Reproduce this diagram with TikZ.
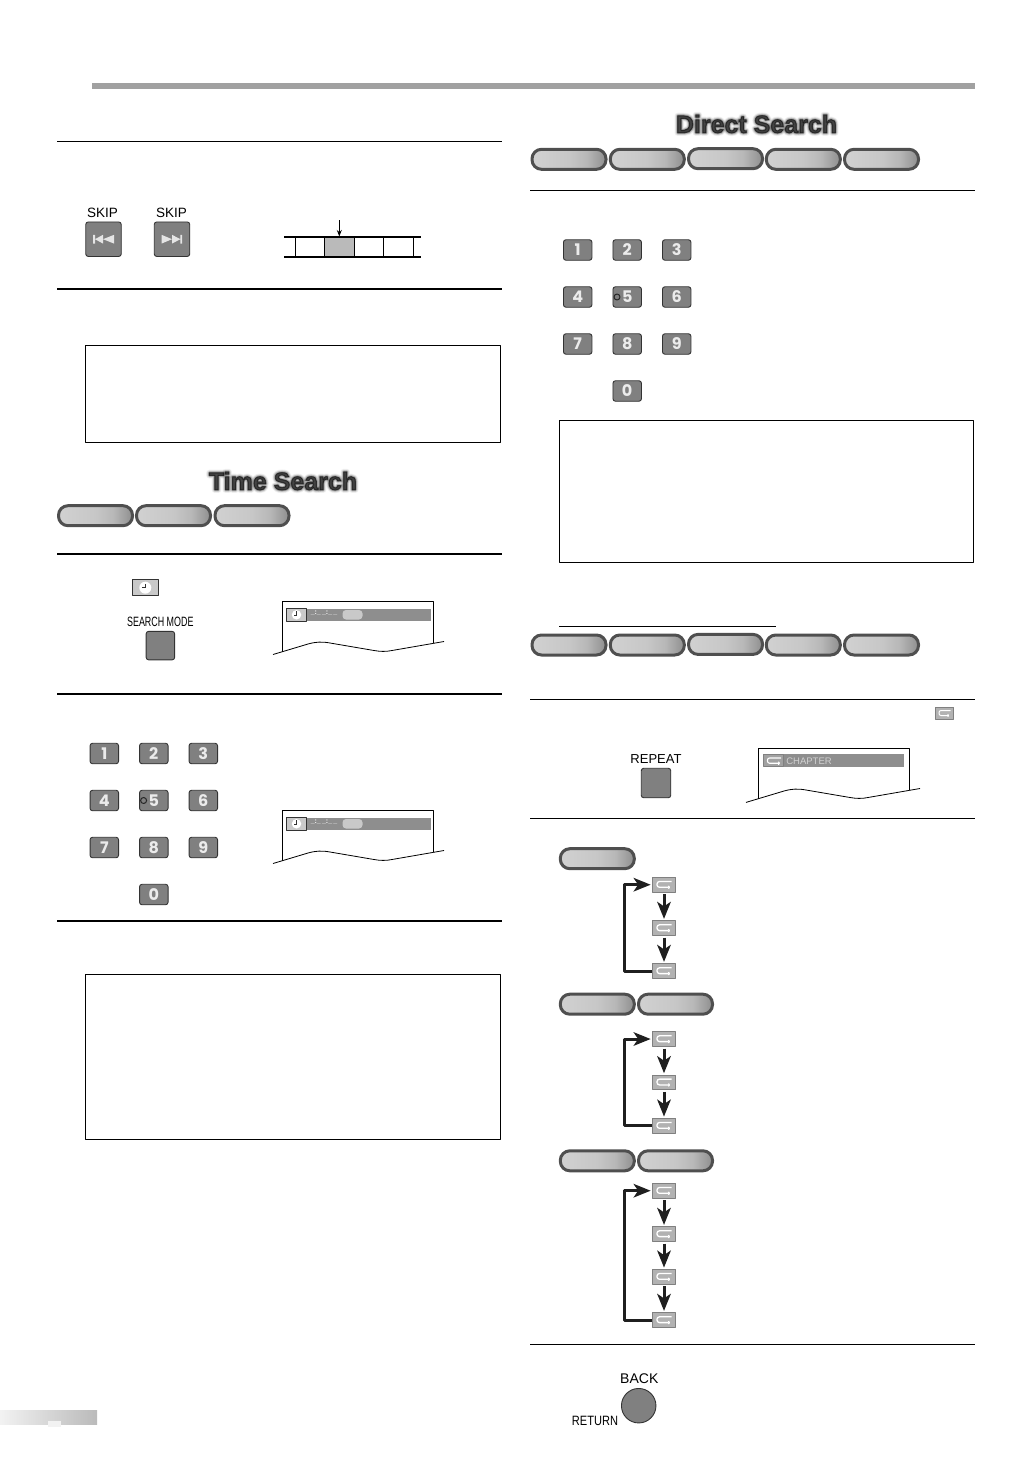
\documentclass[tikz,border=0pt]{standalone}
\usepackage{fontspec}
\usepackage{graphicx}
\setmainfont{Liberation Sans}
\newfontfamily\keyfont{Poppins}
\newfontfamily\blura{Liberation Sans Bold}[FakeBold=24]
\newfontfamily\blurb{Liberation Sans Bold}[FakeBold=18]
\newfontfamily\blurc{Liberation Sans Bold}[FakeBold=13]
\newfontfamily\blurd{Liberation Sans Bold}[FakeBold=8]
\newfontfamily\blure{Liberation Sans Bold}[FakeBold=3]
\usetikzlibrary{arrows.meta}
\definecolor{keygray}{HTML}{808080}
\definecolor{edgegray}{HTML}{333333}
\definecolor{pillrim}{HTML}{4F4F4F}
\definecolor{iconpale}{HTML}{C9C9C9}
\definecolor{bargray}{HTML}{8E8E8E}
\pgfdeclarehorizontalshading{pillshade}{100bp}{rgb(0bp)=(.82,.82,.82); rgb(25bp)=(.82,.82,.82); rgb(50bp)=(.78,.78,.78); rgb(62bp)=(.72,.72,.72); rgb(75bp)=(.56,.56,.56); rgb(100bp)=(.56,.56,.56)}
\newcommand{\fs}[1]{\fontsize{#1}{#1}\selectfont}
\newcommand{\keypad}[3]{%
	\foreach \d/\cx/\cy in {1/0/0,2/49.5/0,3/99/0,4/0/47,5/49.5/47,6/99/47,7/0/94,8/49.5/94,9/99/94,0/49.5/141}
		\node[numkey] (#1\d) at (#2+\cx,#3+\cy) {\d};
	\draw[black!85,line width=1pt] ([xshift=4.5pt]#15.west) circle (3pt);
}
\newcommand{\osdframe}[3]{%
	\draw[line width=.9pt] (282.5+#1,651.5+#2)--(282.5+#1,601.5+#2)--(433.5+#1,601.5+#2)--(433.5+#1,643+#2);
	\draw[line width=.8pt] (273+#1-#3,654.5+#2+.3*#3)--(308+#1,644+#2) .. controls (316+#1,641.8+#2) and (322+#1,641.5+#2) .. (330+#1,643+#2)--(374+#1,650.5+#2) .. controls (380+#1,651.6+#2) and (386+#1,651.8+#2) .. (392+#1,650.5+#2)--(444+#1,641.5+#2);
}
\newcommand{\osdclock}[2]{%
	\path[fill=bargray] (286,608.5+#2) rectangle (431,621+#2);
	\node[clockicon] (#1icon) at (296.5,614.8+#2) {};
	\node[clockface,minimum size=9.5pt] (#1face) at (#1icon) {};
	\draw[edgegray,line width=.5pt] (#1face.center)--++(0,-3.5)(#1face.center)--++(-3,0);
	\node[text=white,font=\fs{7}\bfseries] (#1time) at (324,612.7+#2) {\_:\_\,\_:\_\,\_};
	\path[fill=iconpale,rounded corners=3.5pt] (342.5,610+#2) rectangle (362.5,619.5+#2);
}
\newcommand{\repeatloop}[2]{%
	\foreach \i/\dy in {#2} {
		\node[repbox] (#1\i) at (664,\dy) {};
		\pic at (#1\i) {repglyph};
	}
}
\begin{document}
\begin{tikzpicture}[x=1pt,y=-1pt,line join=round,>=stealth,
	rulethin/.style={line width=1pt},
	rulethick/.style={line width=2pt},
	pill/.style={draw=pillrim,line width=3pt,minimum width=74pt,minimum height=20pt,inner sep=0pt,rounded corners=9.5pt,shading=pillshade},
	squarekey/.style={draw=edgegray,line width=.9pt,fill=keygray,rounded corners=2.5pt,inner sep=0pt},
	numkey/.style={squarekey,minimum width=28.5pt,minimum height=20.5pt,text=white!92!black,font=\fs{16}\keyfont\bfseries},
	iconbox/.style={draw=edgegray,line width=.9pt,fill=iconpale,inner sep=0pt},
	clockicon/.style={iconbox,minimum width=20.5pt,minimum height=12.5pt},
	clockface/.style={circle,fill=white,inner sep=0pt},
	repbox/.style={draw=keygray,line width=.7pt,fill=black!30,inner sep=0pt,minimum width=23pt,minimum height=14.5pt},
	flow/.style={line width=3pt,black!88,shorten <=2pt,shorten >=1.5pt,-{Stealth[length=17pt,width=13.5pt,inset=4.5pt]}},
	repglyph/.pic={\draw[white,line width=1.3pt,rounded corners=2.5pt,-{To[length=2pt,width=3.5pt]}] (7.5,-3.2)--(-7,-3.2)--(-7,2.6)--(6,2.6);},
	label/.style={font=\fs{13.5}}]
	\useasboundingbox (0,0) rectangle (1032,1458);
	\path[fill=black!37] (92,83) rectangle (975,89);
	\foreach \yy in {141.5} \draw[rulethin] (57,\yy)--(502,\yy);
	\foreach \yy in {289,554,694,921} \draw[rulethick] (57,\yy)--(502,\yy);
	\foreach \yy in {190.5,699.5,818.5,1344.5} \draw[rulethin] (530,\yy)--(975,\yy);
	\draw[rulethin] (559,626.5)--(776,626.5);
	\draw[line width=.9pt] (85.5,345.5) rectangle (500.5,442.5);
	\draw[line width=.9pt] (85.5,974.5) rectangle (500.5,1139.5);
	\draw[line width=.9pt] (559.5,420.5) rectangle (973.5,562.5);
	\foreach \n/\f/\o in {a/\blura/.05,b/\blurb/.08,c/\blurc/.12,d/\blurd/.2,e/\blure/.45}{
		\node[text=black,opacity=\o,font=\fs{25}\f] (timetitle\n) at (283,481) {Time Search};
		\node[text=black,opacity=\o,font=\fs{25}\f] (directtitle\n) at (756.5,124) {Direct Search};
	}
	\node[label] (skipa) at (102.5,212.5) {SKIP};
	\node[label] (skipb) at (171.5,212.5) {SKIP};
	\node[squarekey,minimum width=35.5pt,minimum height=34.5pt] (skipprev) at (103.5,239.2) {};
	\node[squarekey,minimum width=35.5pt,minimum height=34.5pt] (skipnext) at (172,239.2) {};
	\path[fill=white!90!black] (93.2,234.8) rectangle (95,243.6) (95,239.2)--(103,234.8)--(103,243.6)--cycle (103,239.2)--(114,234.8)--(114,243.6)--cycle;
	\path[fill=white!90!black] (180.4,234.8) rectangle (182.2,243.6) (180.4,239.2)--(172,234.8)--(172,243.6)--cycle (172,239.2)--(161.5,234.8)--(161.5,243.6)--cycle;
	\path[fill=black!27] (324.5,237) rectangle (354,257);
	\foreach \xx in {295.5,324.5,354,383.5,413.5} \draw[line width=.8pt] (\xx,237)--(\xx,257);
	\draw[rulethick] (284,237)--(421,237) (284,257)--(421,257);
	\coordinate (marktop) at (339.3,220);
	\coordinate (markend) at (339.3,236.5);
	\draw[line width=1.1pt,-{Stealth[length=6.5pt,width=5pt]}] (marktop)--(markend);
	\foreach \n/\xx in {a/95.5,b/173.5,c/252} \node[pill] (timepill\n) at (\xx,515.7) {};
	\foreach \n/\xx/\yy in {a/569/159.3,b/647.3/159.3,c/725.5/158.7,d/803.3/159.3,e/881.5/159.3} \node[pill] (directpill\n) at (\xx,\yy) {};
	\foreach \n/\xx/\yy in {a/569/645,b/647.3/645,c/725.5/644.4,d/803.3/645,e/881.5/645} \node[pill] (repeatpill\n) at (\xx,\yy) {};
	\node[pill] (flowpill) at (597.3,858.7) {};
	\node[pill] (titlepilla) at (597.3,1004.2) {};
	\node[pill] (titlepillb) at (675.5,1004.2) {};
	\node[pill] (trackpilla) at (597.3,1160.8) {};
	\node[pill] (trackpillb) at (675.5,1160.8) {};
	\node[iconbox,minimum width=26.5pt,minimum height=16pt] (clocktop) at (145.5,587.7) {};
	\node[clockface,minimum size=12pt] (clocktopface) at (145.3,587.7) {};
	\draw[edgegray,line width=.5pt] (clocktopface.center)--++(0,-4)(clocktopface.center)--++(-3.5,0);
	\node[label] (searchlabel) at (160.3,621.5) {\scalebox{.66}[1]{SEARCH MODE}};
	\node[squarekey,minimum width=28.5pt,minimum height=28.5pt] (searchkey) at (160.4,645.6) {};
	\osdframe{0}{0}{0}
	\osdclock{osda}{0}
	\osdframe{0}{209}{0}
	\osdclock{osdb}{209}
	\keypad{timekey}{104.3}{753.5}
	\keypad{directkey}{577.7}{250}
	\node[repbox,minimum width=18.5pt,minimum height=11.5pt] (reptop) at (944.5,713.2) {};
	\draw[white,line width=1pt,rounded corners=2pt,-{To[length=1.6pt,width=3pt]}] (950.5,710.5)--(939,710.5)--(939,715.5)--(949,715.5);
	\node[label,font=\fs{13}] (repeatlabel) at (656,759) {REPEAT};
	\node[squarekey,minimum width=29.5pt,minimum height=29.5pt] (repeatkey) at (656,783) {};
	\osdframe{476}{147}{3}
	\path[fill=bargray] (763.5,754.3) rectangle (904,766.7);
	\node[repbox,fill=iconpale!80!black,minimum width=20pt,minimum height=12.5pt] (osdrep) at (773.5,760.5) {};
	\draw[white,line width=1.1pt,rounded corners=2pt,-{To[length=2pt,width=3.5pt]}] (781,758)--(767.5,758)--(767.5,763.2)--(780,763.2);
	\node[text=black!18,font=\fs{9.5}] (chapter) at (809,761) {CHAPTER};
	\repeatloop{fa}{1/884.7,2/928,3/971}
	\draw[flow] (fa1)--(fa2);
	\draw[flow] (fa2)--(fa3);
	\draw[flow,shorten <=0pt] (fa3.west)--++(-28,0)|-(fa1.west);
	\repeatloop{fb}{1/1039,2/1082.3,3/1125.7}
	\draw[flow] (fb1)--(fb2);
	\draw[flow] (fb2)--(fb3);
	\draw[flow,shorten <=0pt] (fb3.west)--++(-28,0)|-(fb1.west);
	\repeatloop{fc}{1/1190.7,2/1234,3/1276.7,4/1320}
	\draw[flow] (fc1)--(fc2);
	\draw[flow] (fc2)--(fc3);
	\draw[flow] (fc3)--(fc4);
	\draw[flow,shorten <=0pt] (fc4.west)--++(-28,0)|-(fc1.west);
	\node[label,font=\fs{14}] (backlabel) at (639.3,1378.5) {BACK};
	\node[label] (returnlabel) at (595,1420.7) {\scalebox{.82}[1]{RETURN}};
	\node[circle,draw=edgegray,line width=.9pt,fill=keygray,minimum size=34.5pt,inner sep=0pt] (backkey) at (638.7,1405.7) {};
	\path[left color=black!5,right color=black!27] (0,1410) rectangle (97,1424);
	\path[fill=black!5] (48,1421) rectangle (61,1427);
\end{tikzpicture}
\end{document}
